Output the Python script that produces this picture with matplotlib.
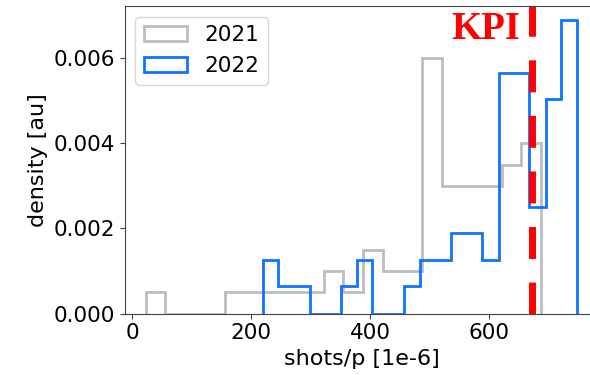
import matplotlib
matplotlib.use('Agg')
import matplotlib.pyplot as plt
import numpy as np

matplotlib.rcParams['font.size'] = 15.5

# histogram bin edges and densities
edges_2021 = [23, 56, 89, 123, 156, 189, 222, 255, 289, 322, 355,
              388, 421, 455, 488, 521, 554, 587, 621, 654, 687]
dens_2021 = [0.0005, 0, 0, 0, 0.0005, 0.0005, 0.0005, 0.0005, 0.0005, 0.001,
             0.0005, 0.0015, 0.001, 0.001, 0.006, 0.003, 0.003, 0.003, 0.0035, 0.004]

edges_2022 = [220, 246, 272, 299, 325, 352, 378, 404, 431, 457, 484,
              510, 536, 563, 589, 616, 642, 668, 695, 721, 748]
dens_2022 = [0.00127, 0.00064, 0.00064, 0, 0, 0.00064, 0.00127, 0, 0, 0.00064,
             0.00127, 0.00127, 0.0019, 0.0019, 0.00127, 0.00567, 0.00567, 0.0025, 0.00504, 0.0069]

kpi = 672

fig = plt.figure(figsize=(5.9, 3.75), dpi=100)
ax = fig.add_axes([0.2114, 0.164, 0.803, 0.82])

ax.hist(edges_2021[:-1], bins=edges_2021, weights=dens_2021, histtype='step',
        color='#bdbdbd', lw=2, label='2021')
ax.hist(edges_2022[:-1], bins=edges_2022, weights=dens_2022, histtype='step',
        color='#0d74ff', lw=2, label='2022')

ax.axvline(kpi, color='#ff0000', lw=5, linestyle=(0, (4.6, 3.4)))
ax.text(652, 0.00647, 'KPI', color='#ff0000', fontsize=28, fontweight='bold',
        family='Liberation Serif', ha='right', va='baseline')

ax.set_xlim(-12.3, 784)
ax.set_ylim(0, 0.007235)
ax.set_xticks([0, 200, 400, 600])
ax.set_yticks([0, 0.002, 0.004, 0.006])
ax.set_xlabel('shots/p [1e-6]', fontsize=16)
ax.set_ylabel('density [au]', fontsize=16)
for s in ax.spines.values():
    s.set_color('#444444')
ax.tick_params(color='#444444')
ax.legend(loc='upper left')

plt.savefig('out.png')
